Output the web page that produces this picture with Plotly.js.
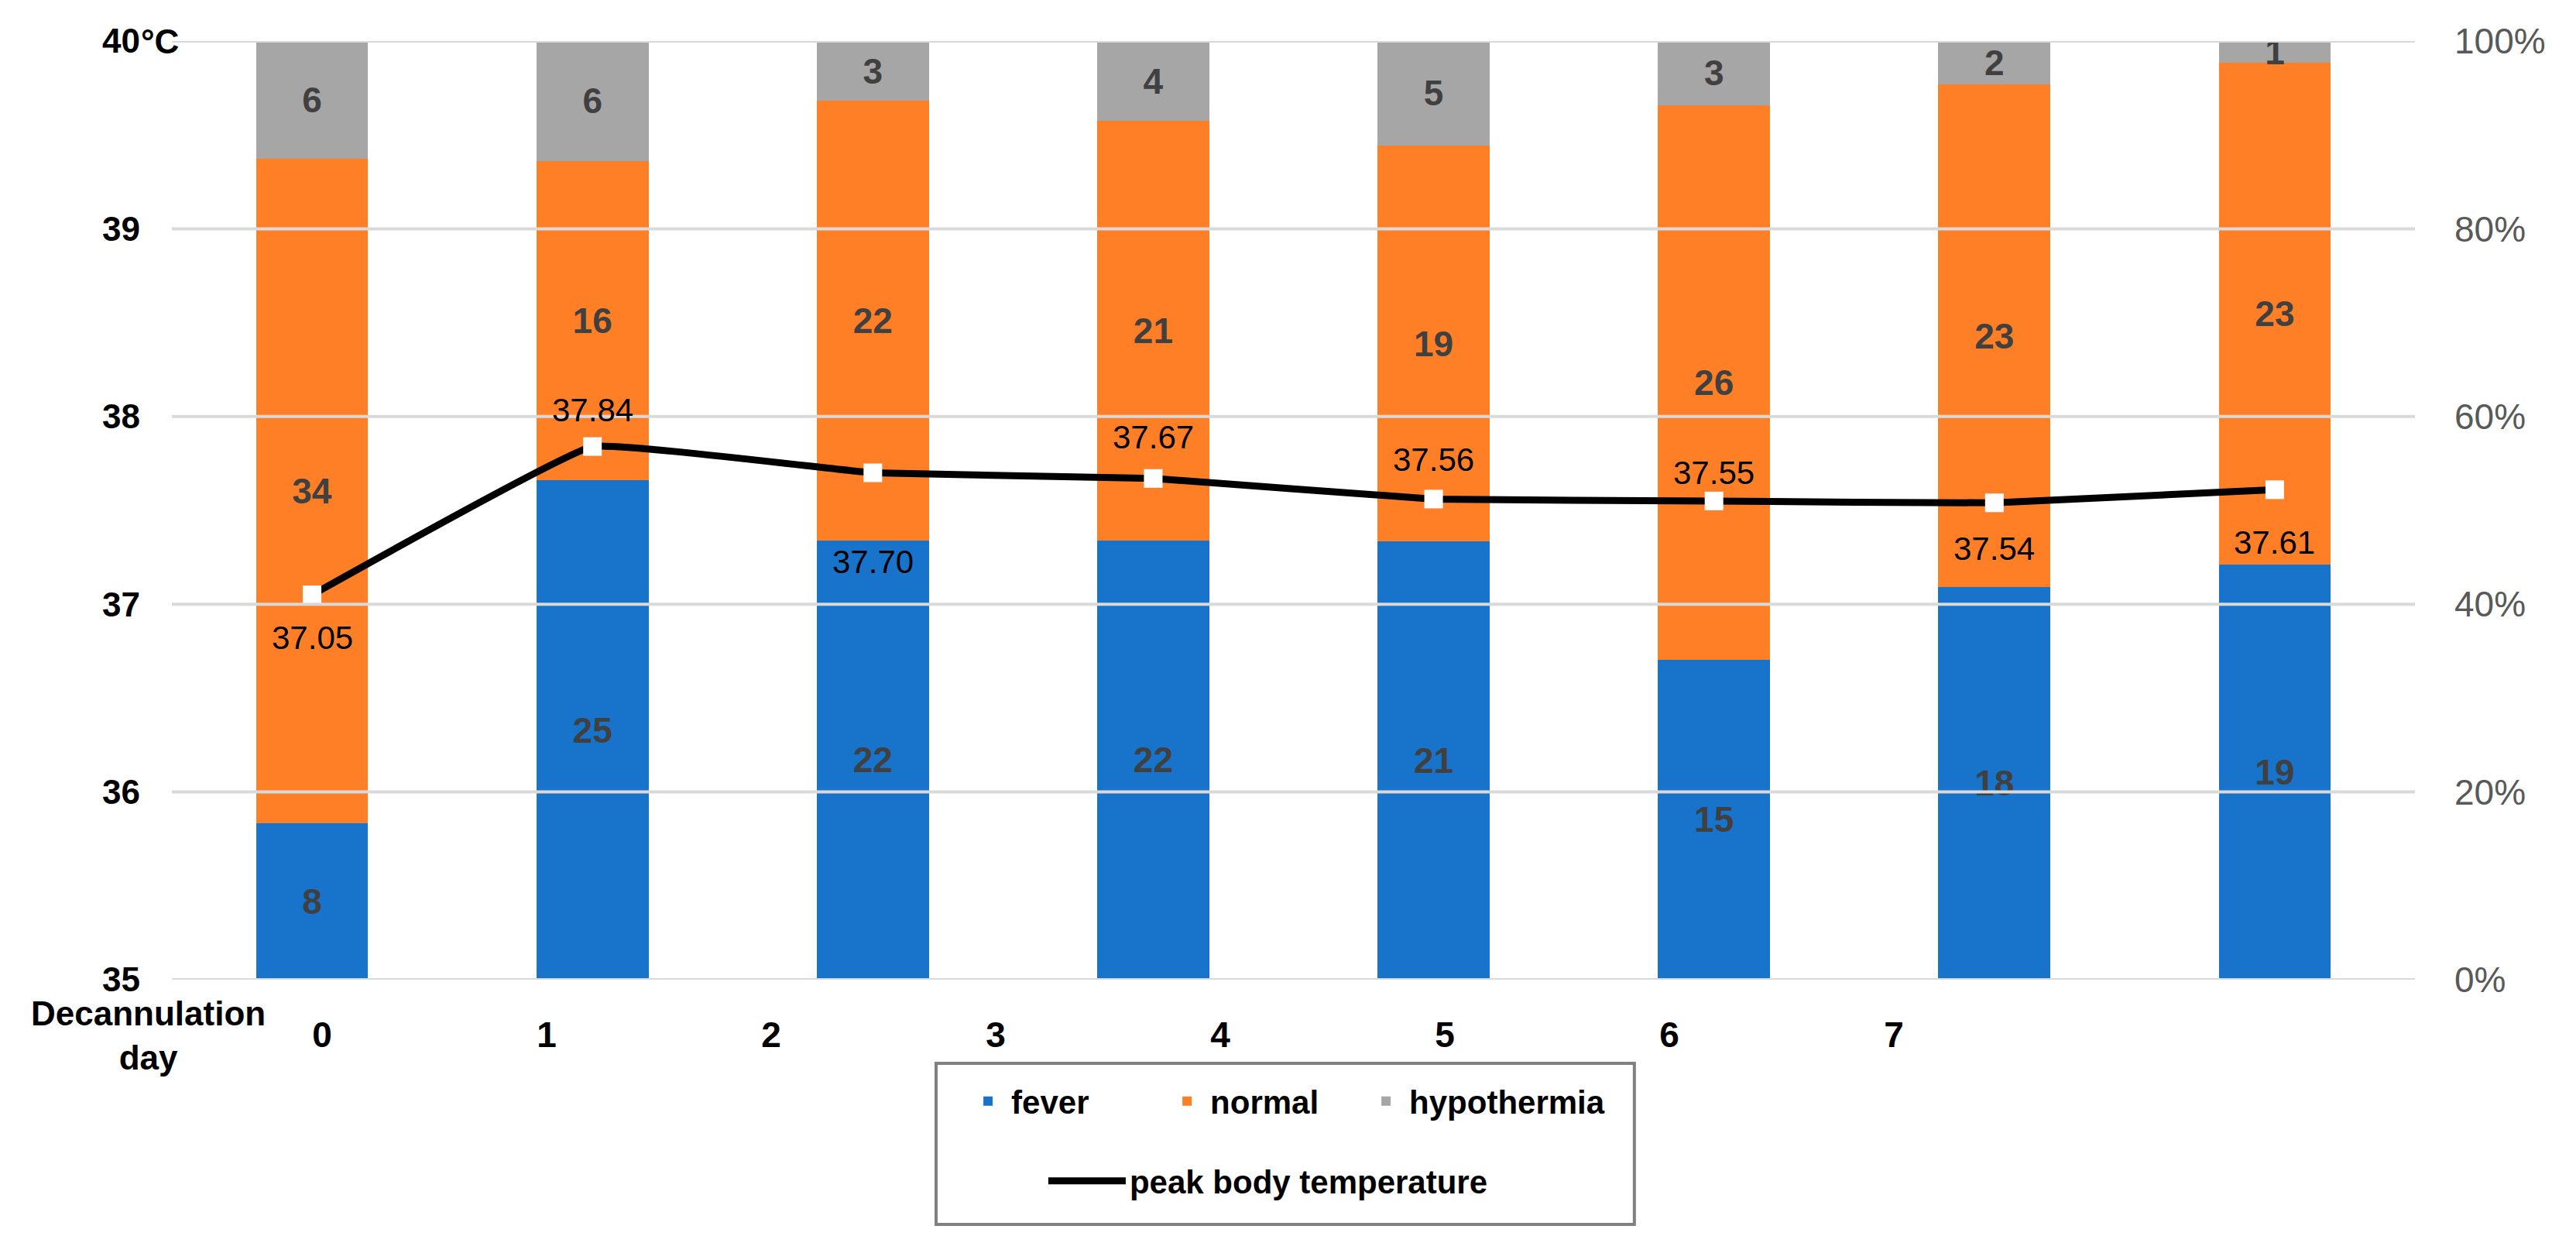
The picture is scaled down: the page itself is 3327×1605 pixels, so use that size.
<!DOCTYPE html>
<html><head><meta charset="utf-8">
<script src="https://cdn.plot.ly/plotly-3.0.1.min.js"></script>
<style>html,body{margin:0;padding:0;background:#fff}#chart{width:3327px;height:1605px}</style>
</head><body><div id="chart"></div>
<script>
// ---- data ----
const days = ['0','1','2','3','4','5','6','7'];
const dayTickLabels = ['0','1','2','3','4','5','6','7'];
const fever = [8,25,22,22,21,15,18,19];
const normal = [34,16,22,21,19,26,23,23];
const hypothermia = [6,6,3,4,5,3,2,1];
const peakTemp = [37.05,37.84,37.70,37.67,37.56,37.55,37.54,37.61];
const tempTicks = [35,36,37,38,39,40];
const pctTicks = [0,20,40,60,80,100];

// ---- styles ----
const FONT = 'Liberation Sans, Arial, sans-serif';
const labelShift = [-55,47,-115,53,51,36,-59,-68];
const countFont = {family: FONT, size: 46, color: '#404040', weight: 'bold'};

function barTrace(name, vals, color, lw){
  return {type:'bar', name:name, x:days, y:vals, width:0.4,
    marker:{color:color, line:{width:0}}, legendwidth:lw,
    text: vals.map(String), textposition:'inside', insidetextanchor:'middle', textangle:0,
    constraintext:'none', textfont: countFont, hoverinfo:'skip', legend:'legend'};
}

const traces = [
  barTrace('fever', fever, '#1873CA', 192),
  barTrace('normal', normal, '#FF7F27', 192),
  barTrace('hypothermia', hypothermia, '#A6A6A6', 300),
  {type:'scatter', mode:'lines', name:'peak body temperature', x:days, y:peakTemp, yaxis:'y2',
    line:{color:'#000000', width:9, shape:'spline', smoothing:0.25}, legend:'legend2', hoverinfo:'skip'},
  {type:'scatter', mode:'markers', name:'peak', showlegend:false, x:days, y:peakTemp, yaxis:'y2',
    marker:{symbol:'square', size:24, color:'#ffffff', line:{width:0}}, hoverinfo:'skip'},
  // carrier for the day-label axis (no marks)
  {type:'scatter', mode:'markers', x:[], y:[], xaxis:'x2', showlegend:false, hoverinfo:'skip'}
];

const annotations = peakTemp.map((t,i)=>({
  xref:'x', yref:'y2', x:days[i], y:t, text:t.toFixed(2), showarrow:false,
  yshift:labelShift[i], font:{family:FONT, size:42, color:'#000000'}
}));
annotations.push({xref:'paper', yref:'paper', x:-0.0107, y:-0.059, xanchor:'center', yanchor:'middle',
  text:'Decannulation<br>day', showarrow:false, font:{family:FONT, size:44, color:'#000', weight:'bold'}});
annotations.push({xref:'paper', yref:'paper', x:-0.0145, y:1.0, xanchor:'left', yanchor:'middle',
  text:'°C', showarrow:false, font:{family:FONT, size:44, color:'#000', weight:'bold'}});

// gridlines drawn above the bars, as in the reference
const gridShapes = pctTicks.map(v=>({type:'line', xref:'paper', yref:'y', x0:0, x1:1, y0:v, y1:v,
  layer:'above', line:{color:'#D9D9D9', width:4}}));

const layout = {
  width:3327, height:1605,
  margin:{l:222, r:208, t:53, b:340, pad:0},
  paper_bgcolor:'#ffffff', plot_bgcolor:'#ffffff',
  barmode:'stack', barnorm:'percent',
  font:{family:FONT},
  xaxis:{type:'category', range:[-0.5,7.5], showticklabels:false, showgrid:false, zeroline:false, showline:false, ticks:''},
  xaxis2:{overlaying:'x', anchor:'y', side:'bottom', type:'linear', range:[-0.669, 9.321], tickmode:'array',
    tickvals:[0,1,2,3,4,5,6,7], ticktext:dayTickLabels,
    showgrid:false, zeroline:false, showline:false, ticks:'', ticklabelstandoff:40,
    tickfont:{family:FONT, size:46, color:'#000', weight:'bold'}},
  yaxis:{side:'right', range:[0,100], tickmode:'array', tickvals:pctTicks, ticktext:pctTicks.map(v=>v+'%'),
    showgrid:false, zeroline:false, showline:false, ticks:'', ticklabelstandoff:50,
    tickfont:{family:FONT, size:46, color:'#595959'}},
  yaxis2:{overlaying:'y', side:'left', range:[35,40], tickmode:'array', tickvals:tempTicks, showgrid:false, zeroline:false, showline:false,
    ticks:'', ticklabelstandoff:40, tickfont:{family:FONT, size:44, color:'#000', weight:'bold'}},
  legend:{orientation:'h', traceorder:'normal', x:0.3535, y:-0.1295, xanchor:'left', yanchor:'middle', bgcolor:'rgba(0,0,0,0)', borderwidth:0,
    itemwidth:50, entrywidthmode:'pixels', font:{family:FONT, size:42, color:'#000', weight:'bold'}},
  legend2:{orientation:'h', x:0.389, y:-0.2145, xanchor:'left', yanchor:'middle', bgcolor:'rgba(0,0,0,0)', borderwidth:0,
    itemwidth:100, font:{family:FONT, size:42, color:'#000', weight:'bold'}},
  shapes:gridShapes.concat([{type:'rect', xref:'paper', yref:'paper', x0:0.3407, x1:0.652, y0:-0.0891, y1:-0.2607,
    line:{color:'#808080', width:4}, fillcolor:'rgba(0,0,0,0)'}]),
  annotations: annotations,
  showlegend:true
};

Plotly.newPlot('chart', traces, layout, {displayModeBar:false, staticPlot:true});
</script></body></html>
